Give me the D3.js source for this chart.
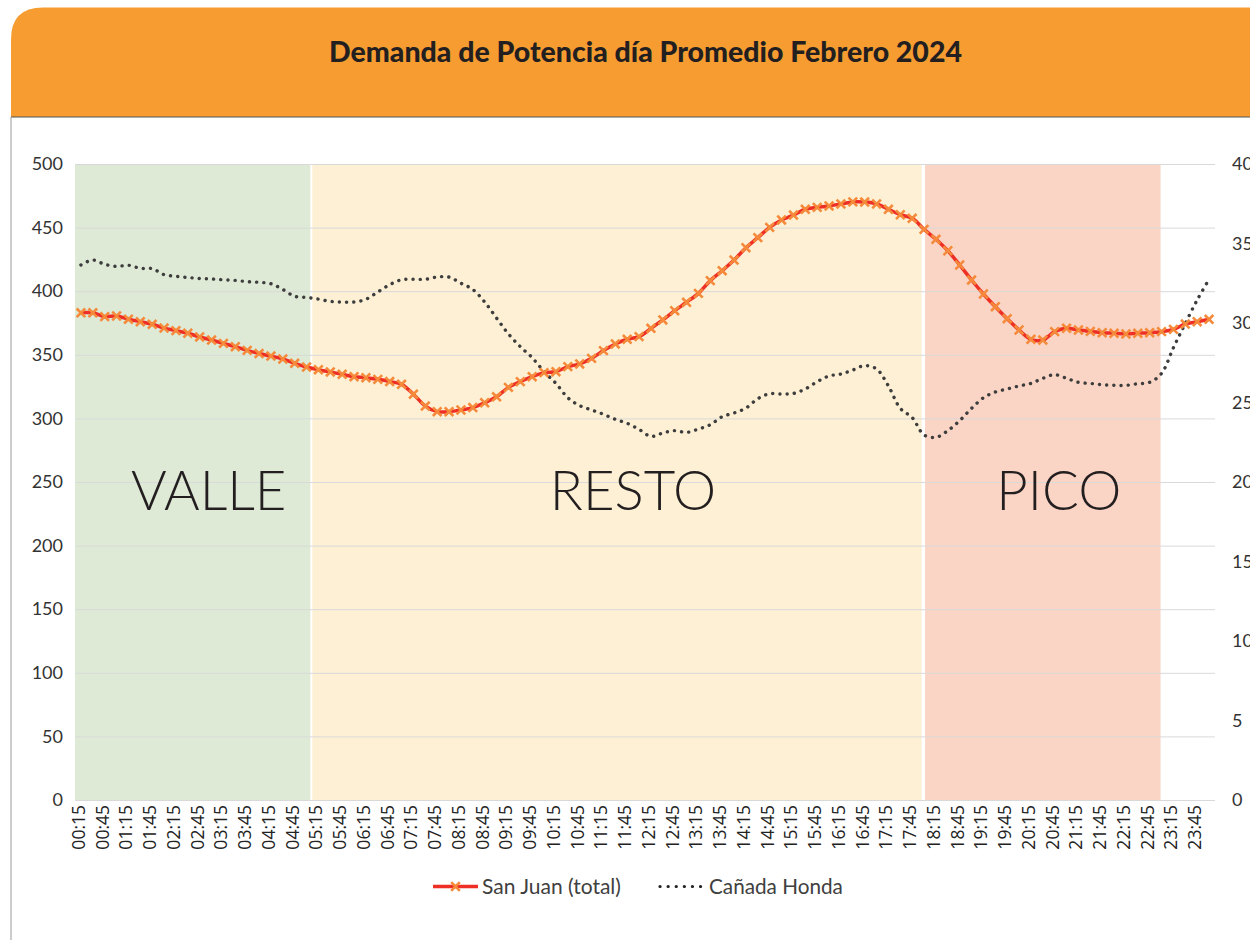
<!DOCTYPE html>
<html><head><meta charset="utf-8">
<script src="https://cdn.jsdelivr.net/npm/d3@7"></script>
<style>
html,body{margin:0;padding:0;background:#fff;}
svg{display:block;}
</style></head>
<body>
<svg id="chart" width="1250" height="940"></svg>
<script>
const title = "Demanda de Potencia día Promedio Febrero 2024";
const categories = ["00:15","00:30","00:45","01:00","01:15","01:30","01:45","02:00","02:15","02:30","02:45","03:00","03:15","03:30","03:45","04:00","04:15","04:30","04:45","05:00","05:15","05:30","05:45","06:00","06:15","06:30","06:45","07:00","07:15","07:30","07:45","08:00","08:15","08:30","08:45","09:00","09:15","09:30","09:45","10:00","10:15","10:30","10:45","11:00","11:15","11:30","11:45","12:00","12:15","12:30","12:45","13:00","13:15","13:30","13:45","14:00","14:15","14:30","14:45","15:00","15:15","15:30","15:45","16:00","16:15","16:30","16:45","17:00","17:15","17:30","17:45","18:00","18:15","18:30","18:45","19:00","19:15","19:30","19:45","20:00","20:15","20:30","20:45","21:00","21:15","21:30","21:45","22:00","22:15","22:30","22:45","23:00","23:15","23:30","23:45","00:00"];
const sanJuan = [383,383,380,380.5,378,376,374,371,369,367,364,361.6,359,356.4,353.5,351,349,346.7,343.3,340.4,338.3,336.5,334.7,332.8,332,330.7,329,326.8,319,309.7,305.3,305.3,306.6,308.5,312.3,317,324.4,328.9,332.8,336,336.7,340.7,342.8,347.2,353.3,358.5,362.2,364.3,370.8,377.4,384.7,391.3,398.3,408.3,416.1,424.5,434.2,442.1,450.2,456,459.9,464.4,465.9,467,468.6,470.2,470.1,468.6,464.4,460.1,457.3,448.6,440.8,431.8,420.6,408.8,397.8,387.8,378.4,369.5,362.2,361.6,368.2,370.8,369.5,368.4,367.4,366.9,366.4,366.9,367.4,368.2,370,374.2,376,377.9];
const canadaHonda = [33.65,33.96,33.69,33.56,33.63,33.44,33.42,33.04,32.94,32.86,32.8,32.77,32.72,32.68,32.6,32.56,32.47,32.11,31.68,31.61,31.5,31.36,31.32,31.32,31.49,31.95,32.41,32.72,32.75,32.75,32.89,32.89,32.5,32.11,31.32,30.31,29.31,28.51,27.82,26.94,26.2,25.3,24.8,24.53,24.26,23.94,23.69,23.31,22.87,23.08,23.23,23.12,23.33,23.6,24.11,24.34,24.65,25.24,25.55,25.53,25.57,25.85,26.31,26.67,26.79,27.04,27.32,27.11,26.04,24.63,24.05,22.96,22.81,23.23,23.86,24.63,25.3,25.66,25.85,26.04,26.2,26.52,26.75,26.52,26.27,26.2,26.12,26.08,26.08,26.18,26.27,26.83,28.45,29.98,31.45,32.75];
const leftTicks = [0,50,100,150,200,250,300,350,400,450,500];
const rightTicks = [0,5,10,15,20,25,30,35,40];
const zoneNames = ["VALLE","RESTO","PICO"];
const zoneFrom = [0, 5.1, 18];   // hours
const zoneTo = [5.1, 17.97, 23]; // hours
const zoneColors = ["#DEEAD6","#FEF0D4","#FAD4C4"];
const seriesNames = ["San Juan (total)","Cañada Honda"];

const svg = d3.select("#chart");
const W = 1250, H = 940;
const plot = {l:75, r:1215, t:164, b:800};
const FONT = "Lato, 'Open Sans', sans-serif";

function fit(sel, base, target){
  const w = sel.node().getComputedTextLength();
  sel.attr("font-size", base*target/w);
}

// Card / header
svg.append("rect").attr("width",W).attr("height",H).attr("fill","#fff");
const hx = 11, hy = 7.5, hb = 117, rr = 32;
svg.append("path")
  .attr("d",`M${hx},${hb} L${hx},${hy+rr} Q${hx},${hy} ${hx+rr},${hy} L${W+2},${hy} L${W+2},${hb} Z`)
  .attr("fill","#F79C31");
svg.append("line").attr("x1",hx).attr("x2",W).attr("y1",hb).attr("y2",hb)
  .attr("stroke","#555").attr("stroke-width",1.2);
svg.append("line").attr("x1",hx).attr("x2",hx).attr("y1",hb).attr("y2",H)
  .attr("stroke","#9a9a9a").attr("stroke-width",1);

// Title fitted to target width
const tt = svg.append("text").attr("x",645.5).attr("y",62).attr("text-anchor","middle")
  .attr("font-family",FONT).attr("font-weight",900).attr("font-size",23)
  .attr("fill","#231F20").text(title);
fit(tt, 23, 633);

// Scales
const x = d3.scaleBand().domain(categories).range([plot.l, plot.r]).padding(0);
const cx = d => x(d) + x.bandwidth()/2;
const tx = d3.scaleLinear().domain([0.25, 24]).range([cx(categories[0]), cx(categories[categories.length-1])]);
const yL = d3.scaleLinear().domain([0,500]).range([plot.b, plot.t]);
const yR = d3.scaleLinear().domain([0,40]).range([plot.b, plot.t]);

// Zones
const zones = zoneNames.map((n,i)=>({name:n, from:zoneFrom[i], to:zoneTo[i], color:zoneColors[i]}));
zones.forEach(z=>{
  const x0 = Math.max(plot.l, tx(z.from)+1);
  const x1 = Math.min(plot.r, tx(z.to)-1);
  z.x0 = x0; z.x1 = x1;
  svg.append("rect").attr("x",x0).attr("y",plot.t).attr("width",x1-x0).attr("height",plot.b-plot.t)
    .attr("fill",z.color);
});

// Gridlines
svg.append("g").selectAll("line").data(leftTicks).join("line")
  .attr("x1",plot.l).attr("x2",plot.r).attr("y1",d=>yL(d)+0.5).attr("y2",d=>yL(d)+0.5)
  .attr("stroke","#D9D9D9").attr("stroke-width",1);

// Zone labels
zones.forEach(z=>{
  svg.append("text").attr("x",(z.x0+z.x1)/2+16).attr("y",510).attr("text-anchor","middle")
    .attr("font-family",FONT).attr("font-weight",300).attr("font-size",54.5)
    .attr("fill","#231F20").text(z.name);
});

// Left axis
const gL = svg.append("g").attr("transform",`translate(${plot.l},0)`)
  .call(d3.axisLeft(yL).tickValues(leftTicks).tickSize(0).tickPadding(12));
gL.select(".domain").remove();
gL.selectAll("text").attr("font-family",FONT).attr("font-size",18).attr("fill","#333");

// Right axis
const gR = svg.append("g").attr("transform",`translate(${plot.r},0)`)
  .call(d3.axisRight(yR).tickValues(rightTicks).tickSize(0).tickPadding(17));
gR.select(".domain").remove();
gR.selectAll("text").attr("font-family",FONT).attr("font-size",18).attr("fill","#333");

// Bottom axis
const gB = svg.append("g").attr("transform",`translate(0,${plot.b})`)
  .call(d3.axisBottom(x).tickValues(categories.filter((c,i)=>i%2===0)).tickSize(0).tickFormat(d=>d));
gB.select(".domain").remove();
gB.selectAll(".tick text")
  .attr("font-family","'Open Sans', sans-serif").attr("font-size",17.5).attr("fill","#222")
  .attr("text-anchor","end").attr("transform","translate(0,5) rotate(-90)")
  .attr("x",0).attr("y",0).attr("dy","0.22em");

// Cañada Honda (right axis)
const lineR = d3.line().x((d,i)=>cx(categories[i])).y(d=>yR(d)).curve(d3.curveCatmullRom.alpha(0.5));
svg.append("path").datum(canadaHonda).attr("d",lineR).attr("fill","none")
  .attr("stroke","#3d3d3d").attr("stroke-width",3.4).attr("stroke-linecap","round")
  .attr("stroke-dasharray","0.1 7.1");

// San Juan (left axis)
const lineL = d3.line().x((d,i)=>cx(categories[i])).y(d=>yL(d)).curve(d3.curveCatmullRom.alpha(0.5));
svg.append("path").datum(sanJuan).attr("d",lineL).attr("fill","none")
  .attr("stroke","#EE2F26").attr("stroke-width",3.5).attr("stroke-linejoin","round");
const m = 4.3;
svg.append("g").selectAll("path").data(sanJuan).join("path")
  .attr("d",(d,i)=>{const px=cx(categories[i]), py=yL(d);
    return `M${px-m},${py-m}L${px+m},${py+m}M${px-m},${py+m}L${px+m},${py-m}`;})
  .attr("stroke","#F58A3A").attr("stroke-width",2.6).attr("fill","none");

// Legend
const ly = 886.5;
svg.append("line").attr("x1",433).attr("x2",478).attr("y1",ly).attr("y2",ly)
  .attr("stroke","#EE2F26").attr("stroke-width",3.5);
svg.append("path").attr("d",`M${455.5-m},${ly-m}L${455.5+m},${ly+m}M${455.5-m},${ly+m}L${455.5+m},${ly-m}`)
  .attr("stroke","#F58A3A").attr("stroke-width",2.6);
const l1 = svg.append("text").attr("x",482).attr("y",ly).attr("dy","0.35em")
  .attr("font-family",FONT).attr("font-size",18).attr("fill","#404040").text(seriesNames[0]);
fit(l1, 18, 139);
svg.append("line").attr("x1",660).attr("x2",701).attr("y1",ly).attr("y2",ly)
  .attr("stroke","#222").attr("stroke-width",3.2).attr("stroke-linecap","round")
  .attr("stroke-dasharray","0.1 8");
const l2 = svg.append("text").attr("x",709).attr("y",ly).attr("dy","0.35em")
  .attr("font-family",FONT).attr("font-size",18).attr("fill","#404040").text(seriesNames[1]);
fit(l2, 18, 134);
</script>
</body></html>
